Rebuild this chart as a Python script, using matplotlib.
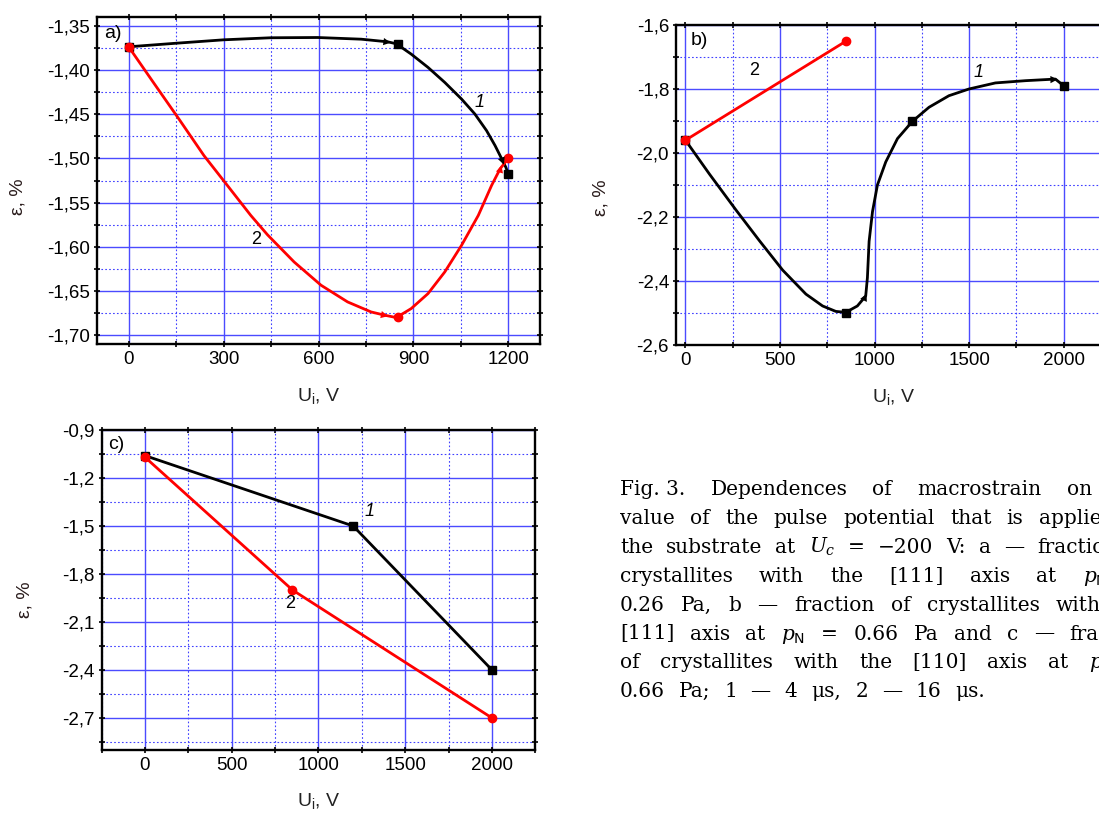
import matplotlib
matplotlib.use('Agg')
import matplotlib.pyplot as plt
from matplotlib.ticker import MultipleLocator, FuncFormatter

plt.rcParams['font.family'] = ['Liberation Sans', 'DejaVu Sans']
plt.rcParams['mathtext.fontset'] = 'dejavuserif'

# ---- panel a) data (read from picture) ----
a_curve1_x = [0, 153, 301, 449, 597, 735, 819, 846, 893, 946, 999, 1052, 1094, 1131,
              1158, 1179, 1192, 1200]
a_curve1_y = [-1.3737, -1.3696, -1.3658, -1.3635, -1.3632, -1.3651, -1.3681, -1.3703,
              -1.3820, -1.3970, -1.4140, -1.4328, -1.4497, -1.4685, -1.4855, -1.5005,
              -1.5100, -1.5175]
a_pts1_x = [0, 850, 1200]
a_pts1_y = [-1.374, -1.370, -1.518]
a_curve2_x = [0, 80, 160, 238, 312, 386, 439, 523, 608, 692, 766, 809, 846, 893,
              946, 999, 1052, 1105, 1147, 1174, 1200]
a_curve2_y = [-1.3737, -1.4150, -1.4560, -1.4968, -1.5306, -1.5645, -1.5865,
              -1.6172, -1.6435, -1.6624, -1.6737, -1.6774, -1.6801, -1.6699, -1.6530,
              -1.6285, -1.5984, -1.5645, -1.5306, -1.5118, -1.4998]
a_pts2_x = [0, 850, 1200]
a_pts2_y = [-1.374, -1.680, -1.500]
a_arrows1 = [(780, -1.3665, 828, -1.3690), (1172, -1.494, 1186, -1.507)]
a_arrows2 = [(770, -1.6745, 820, -1.6785), (1165, -1.525, 1178, -1.508)]

# ---- panel b) ----
b_curve1_x = [0, 127, 267, 391, 514, 637, 725, 795, 848, 909, 953, 962, 971, 989, 1015,
              1059, 1121, 1200, 1288, 1393, 1499, 1639, 1798, 1956, 2000]
b_curve1_y = [-1.960, -2.066, -2.178, -2.274, -2.366, -2.441, -2.478, -2.495, -2.498,
              -2.478, -2.447, -2.390, -2.276, -2.183, -2.100, -2.028, -1.955, -1.901,
              -1.857, -1.821, -1.800, -1.781, -1.774, -1.769, -1.790]
b_pts1_x = [0, 850, 1200, 2000]
b_pts1_y = [-1.96, -2.50, -1.90, -1.79]
b_pts2_x = [0, 850]
b_pts2_y = [-1.96, -1.65]
b_arrows1 = [(930, -2.475, 958, -2.440), (1900, -1.771, 1968, -1.770)]

# ---- panel c) ----
c_pts1_x = [0, 1200, 2000]
c_pts1_y = [-1.06, -1.50, -2.40]
c_pts2_x = [0, 850, 2000]
c_pts2_y = [-1.07, -1.90, -2.70]

W, H = 1099, 816
fig = plt.figure(figsize=(W / 100, H / 100), dpi=100)


def make_ax(left, top, right, bottom):
    return fig.add_axes([left / W, 1 - bottom / H, (right - left) / W, (bottom - top) / H])


def style(ax, xlim, ylim, xmaj, ymaj, ydec, ylab_pos, xlab_y):
    ax.set_xlim(*xlim)
    ax.set_ylim(*ylim)
    ax.xaxis.set_major_locator(MultipleLocator(xmaj))
    ax.xaxis.set_minor_locator(MultipleLocator(xmaj / 2))
    ax.yaxis.set_major_locator(MultipleLocator(ymaj))
    ax.yaxis.set_minor_locator(MultipleLocator(ymaj / 2))
    ax.yaxis.set_major_formatter(FuncFormatter(lambda v, p: f'{v:.{ydec}f}'.replace('.', ',')))
    ax.xaxis.set_major_formatter(FuncFormatter(lambda v, p: f'{v:.0f}'))
    ax.grid(which='major', color='#4b4bff', lw=1.0, ls='-')
    ax.grid(which='minor', color='#4040ff', lw=0.8, ls=(0, (1.5, 2)))
    ax.set_axisbelow(True)
    for s in ax.spines.values():
        s.set_linewidth(1.7)
    ax.tick_params(which='both', direction='out', length=4, width=1.2,
                   labelsize=13.5, pad=3)
    ax.tick_params(axis='x', which='both', top=True, direction='inout')
    ax.tick_params(axis='y', which='both', right=True, direction='inout')
    ax.set_xlabel('U$_\\mathregular{i}$, V', fontsize=14, color='#222222')
    ax.set_ylabel('ε, %', fontsize=14, color='#2a1c1c')
    ax.yaxis.set_label_coords(*ylab_pos)
    ax.xaxis.set_label_coords(0.5, xlab_y)


def arrows(ax, lst, color):
    for x0, y0, x1, y1 in lst:
        ax.annotate('', xy=(x1, y1), xytext=(x0, y0),
                    arrowprops=dict(arrowstyle='-|>', color=color, lw=0.01,
                                    mutation_scale=13, shrinkA=0, shrinkB=0), zorder=5)


# panel a
ax = make_ax(97, 17, 540, 344)
style(ax, (-100, 1300), (-1.71, -1.34), 300, 0.05, 2, (-0.16, 0.45), -0.128)
ax.plot(a_curve1_x, a_curve1_y, color='black', lw=2)
ax.plot(a_pts1_x, a_pts1_y, 's', color='black', ms=6, ls='none')
arrows(ax, a_arrows1, 'black')
ax.plot(a_curve2_x, a_curve2_y, color='red', lw=2)
ax.plot(a_pts2_x, a_pts2_y, 'o', color='red', ms=6, ls='none')
arrows(ax, a_arrows2, 'red')
ax.text(1110, -1.437, '1', fontsize=13, style='italic', ha='center', va='center')
ax.text(402, -1.592, '2', fontsize=13, ha='center', va='center')
ax.text(0.016, 0.975, 'a)', transform=ax.transAxes, fontsize=14, ha='left', va='top')

# panel b
ax = make_ax(676, 25, 1111, 345)
style(ax, (-50, 2250), (-2.6, -1.6), 500, 0.2, 1, (-0.152, 0.46), -0.13)
ax.plot(b_curve1_x, b_curve1_y, color='black', lw=2)
ax.plot(b_pts1_x, b_pts1_y, 's', color='black', ms=6, ls='none')
arrows(ax, b_arrows1, 'black')
ax.plot(b_pts2_x, b_pts2_y, color='red', lw=2, marker='o', ms=6)
ax.text(1551, -1.748, '1', fontsize=13, style='italic', ha='center', va='center')
ax.text(364, -1.743, '2', fontsize=13, ha='center', va='center')
ax.text(0.034, 0.978, 'b)', transform=ax.transAxes, fontsize=14, ha='left', va='top')

# panel c
ax = make_ax(101.6, 430, 535.4, 750)
style(ax, (-250, 2250), (-2.9, -0.9), 500, 0.3, 1, (-0.156, 0.47), -0.128)
ax.plot(c_pts1_x, c_pts1_y, color='black', lw=2, marker='s', ms=6)
ax.plot(c_pts2_x, c_pts2_y, color='red', lw=2, marker='o', ms=6)
ax.text(1295, -1.408, '1', fontsize=13, style='italic', ha='center', va='center')
ax.text(834, -1.983, '2', fontsize=13, ha='center', va='center')
ax.text(0.015, 0.98, 'c)', transform=ax.transAxes, fontsize=14, ha='left', va='top')

# caption, justified by hand (runs off the right edge like the scan)
caption = [
    ['Fig. 3.', 'Dependences', 'of', 'macrostrain', 'on', 'the'],
    ['value', 'of', 'the', 'pulse', 'potential', 'that', 'is', 'applied', 'to'],
    ['the', 'substrate', 'at', '$U_c$', '=', '\u2212200', 'V:', 'a', '\u2014', 'fraction', 'of'],
    ['crystallites', 'with', 'the', '[111]', 'axis', 'at', '$p_\\mathsf{N}$', '='],
    ['0.26', 'Pa,', 'b', '\u2014', 'fraction', 'of', 'crystallites', 'with', 'the'],
    ['[111]', 'axis', 'at', '$p_\\mathsf{N}$', '=', '0.66', 'Pa', 'and', 'c', '\u2014', 'fraction'],
    ['of', 'crystallites', 'with', 'the', '[110]', 'axis', 'at', '$p_\\mathsf{N}$', '='],
    ['0.66', 'Pa;', '$\\mathit{1}$', '\u2014', '4', '\u03bcs,', '$\\mathit{2}$', '\u2014', '16', '\u03bcs.'],
]
cap_left, cap_right = 620, 1150
y0, dy = 495, 28.9
r = fig.canvas.get_renderer()
for i, words in enumerate(caption):
    y = 1 - (y0 + i * dy) / H
    texts = [fig.text(0, y, w, fontsize=14.5, family='DejaVu Serif', va='baseline') for w in words]
    widths = [t.get_window_extent(r).width for t in texts]
    if i < len(caption) - 1:
        gap = max((cap_right - cap_left - sum(widths)) / (len(words) - 1), 6)
    else:
        gap = 14
    x = cap_left
    for t, w in zip(texts, widths):
        t.set_x(x / W)
        x += w + gap

fig.savefig('out.png', dpi=100)
